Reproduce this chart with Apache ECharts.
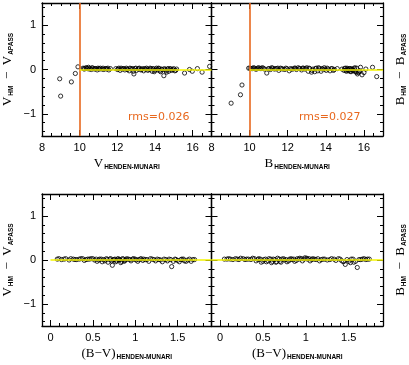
<!DOCTYPE html>
<html>
<head>
<meta charset="utf-8">
<script src="https://cdn.jsdelivr.net/npm/echarts@6/dist/echarts.min.js"></script>
<style>
  html, body { margin: 0; padding: 0; background: #fff; }
  #chart { width: 409px; height: 365px; }
</style>
</head>
<body>
<div id="chart"></div>
<script>
// V_HM - V_APASS against V (Henden-Munari)
const vPoints = [
  [8.94, -0.21], [8.99, -0.60], [9.56, -0.28], [9.77, -0.09], [9.91, 0.06],
  [10.18, 0.03], [10.22, 0.02], [10.25, 0.01], [10.33, 0.04], [10.37, 0.03], [10.41, 0.02],
  [10.47, 0.05], [10.51, 0.01], [10.55, 0.02], [10.62, 0.00], [10.66, 0.04], [10.70, 0.03],
  [10.78, 0.01], [10.82, 0.02], [10.86, 0.02], [10.93, -0.01], [10.97, 0.03], [11.02, 0.02],
  [11.06, 0.01], [11.10, 0.03], [11.19, 0.01], [11.24, 0.03], [11.28, 0.00], [11.36, 0.02],
  [11.41, 0.02], [11.45, 0.01], [11.50, 0.03], [11.55, -0.01], [11.63, 0.02],
  [11.92, 0.02], [12.01, 0.00], [12.05, 0.01], [12.08, 0.03], [12.15, -0.02], [12.20, 0.03],
  [12.24, 0.01], [12.31, 0.02], [12.36, 0.02], [12.40, -0.01], [12.48, 0.03], [12.52, 0.01],
  [12.55, 0.00], [12.63, -0.03], [12.67, 0.03], [12.70, 0.02], [12.78, 0.01], [12.82, 0.02],
  [12.85, -0.04], [12.88, -0.10], [12.94, 0.02], [12.98, 0.03], [13.02, -0.02], [13.10, 0.01],
  [13.14, 0.02], [13.17, 0.03], [13.25, -0.01], [13.29, 0.00], [13.33, 0.02], [13.40, -0.03],
  [13.44, 0.02], [13.48, 0.01], [13.55, 0.03], [13.59, 0.01], [13.62, -0.02], [13.70, 0.00],
  [13.74, 0.03], [13.78, 0.02], [13.85, -0.04], [13.89, 0.02], [13.92, 0.01], [13.96, -0.05],
  [14.00, -0.02], [14.04, 0.01], [14.08, 0.03], [14.15, -0.01], [14.19, 0.03], [14.22, 0.02],
  [14.26, -0.03], [14.30, -0.05], [14.34, 0.01], [14.38, 0.00], [14.47, -0.14], [14.50, 0.02],
  [14.54, 0.00], [14.58, -0.03], [14.62, -0.06], [14.66, 0.01], [14.70, 0.02], [14.73, -0.04],
  [14.80, 0.02], [14.84, 0.01], [14.88, -0.02], [14.95, 0.00], [14.99, 0.02], [15.05, -0.03],
  [15.10, -0.02], [15.15, 0.01], [15.57, -0.08], [15.83, 0.00], [15.98, -0.04],
  [16.25, 0.02], [16.50, -0.06], [16.90, 0.07]
]

// B_HM - B_APASS against B (Henden-Munari)
const bPoints = [
  [9.03, -0.76], [9.52, -0.57], [9.60, -0.35],
  [9.95, 0.03], [10.02, 0.03], [10.08, 0.02], [10.14, 0.02], [10.20, 0.04], [10.26, 0.03],
  [10.31, 0.01], [10.37, 0.01], [10.42, 0.03], [10.48, 0.04], [10.55, 0.02], [10.60, 0.02],
  [10.66, 0.04], [10.72, 0.03], [10.78, 0.01], [10.90, -0.08], [10.98, 0.02], [11.04, 0.02],
  [11.10, 0.00], [11.16, 0.04], [11.21, 0.03], [11.30, 0.01], [11.36, 0.02], [11.42, 0.02],
  [11.48, 0.03], [11.53, -0.02], [11.62, 0.03], [11.68, 0.02], [11.74, 0.01], [11.85, 0.00],
  [11.90, 0.03], [11.96, 0.02], [12.08, -0.03], [12.14, 0.02], [12.20, 0.01], [12.28, 0.01],
  [12.35, 0.03], [12.40, 0.03], [12.46, 0.00], [12.55, 0.04], [12.60, 0.02], [12.64, 0.02],
  [12.73, -0.01], [12.78, 0.03], [12.82, 0.03], [12.90, 0.01], [12.95, 0.02], [13.00, 0.04],
  [13.08, -0.04], [13.12, 0.03], [13.16, 0.02], [13.25, -0.06], [13.29, -0.02], [13.33, 0.01],
  [13.42, -0.05], [13.46, 0.02], [13.50, 0.03], [13.58, -0.03], [13.62, 0.04], [13.66, 0.02],
  [13.75, -0.04], [13.79, 0.02], [13.83, 0.01], [13.92, 0.04], [13.96, 0.01], [14.02, -0.02],
  [14.07, 0.03], [14.12, 0.01], [14.22, -0.03], [14.28, 0.02], [14.34, 0.02], [14.40, -0.02],
  [14.45, 0.00], [14.60, 0.02], [14.85, 0.01], [14.95, -0.02], [14.98, 0.02], [15.02, 0.03],
  [15.05, -0.02], [15.08, -0.04], [15.11, 0.03], [15.14, 0.01], [15.17, -0.01], [15.20, -0.03],
  [15.23, 0.02], [15.26, 0.02], [15.29, -0.04], [15.32, -0.05], [15.35, 0.02], [15.38, 0.00],
  [15.42, -0.02], [15.45, -0.03], [15.49, 0.02], [15.52, 0.04], [15.55, -0.04], [15.58, -0.06],
  [15.62, 0.03], [15.66, -0.10], [15.70, -0.07], [15.74, -0.05], [15.78, -0.03], [15.82, 0.05],
  [15.90, -0.12], [16.00, -0.07], [16.10, 0.01], [16.45, 0.05], [16.67, -0.16]
]

// V_HM - V_APASS against (B-V)
const bvVPoints = [
  [0.08, 0.02], [0.10, 0.03], [0.13, 0.01], [0.16, 0.02], [0.18, 0.03], [0.22, 0.00],
  [0.24, 0.03], [0.27, 0.02], [0.29, 0.01], [0.31, 0.01], [0.34, 0.02], [0.36, 0.03],
  [0.38, 0.03], [0.40, -0.01], [0.42, 0.01], [0.44, 0.02], [0.46, 0.02], [0.48, 0.03],
  [0.50, 0.03], [0.52, 0.00], [0.54, 0.02], [0.55, -0.03], [0.57, 0.00], [0.58, 0.02],
  [0.60, 0.02], [0.61, -0.04], [0.63, 0.01], [0.64, -0.02], [0.66, 0.03], [0.67, 0.01],
  [0.68, -0.05], [0.70, 0.02], [0.71, 0.03], [0.72, -0.02], [0.73, -0.12], [0.74, 0.00],
  [0.75, 0.01], [0.76, 0.02], [0.77, -0.04], [0.78, -0.02], [0.79, 0.02], [0.80, 0.03],
  [0.81, 0.00], [0.82, 0.01], [0.83, -0.06], [0.84, -0.03], [0.85, 0.03], [0.86, 0.02],
  [0.87, -0.03], [0.88, -0.01], [0.89, 0.01], [0.90, 0.03], [0.92, 0.02], [0.94, 0.01],
  [0.95, -0.02], [0.97, 0.02], [0.98, 0.03], [1.00, 0.02], [1.01, 0.00], [1.03, -0.03],
  [1.04, 0.01], [1.06, 0.02], [1.07, 0.03], [1.09, -0.01], [1.10, 0.02], [1.12, 0.01],
  [1.14, 0.01], [1.16, -0.03], [1.18, 0.03], [1.20, 0.02], [1.22, 0.01], [1.24, -0.02],
  [1.26, 0.02], [1.28, 0.01], [1.30, 0.00], [1.32, -0.04], [1.34, 0.02], [1.36, 0.01],
  [1.38, -0.02], [1.40, 0.02], [1.42, 0.01], [1.43, -0.15], [1.45, -0.03], [1.47, 0.02],
  [1.48, 0.01], [1.50, -0.01], [1.52, -0.04], [1.54, 0.01], [1.55, 0.02], [1.57, 0.02],
  [1.58, -0.02], [1.60, -0.03], [1.62, 0.00], [1.64, 0.02], [1.66, -0.03], [1.68, 0.01],
  [1.70, 0.01]
]

// B_HM - B_APASS against (B-V)
const bvBPoints = [
  [0.05, 0.02], [0.08, 0.02], [0.10, 0.03], [0.12, 0.02], [0.15, 0.01], [0.18, 0.03],
  [0.20, 0.02], [0.22, 0.01], [0.24, 0.04], [0.27, 0.03], [0.29, 0.01], [0.31, 0.02],
  [0.33, 0.02], [0.36, 0.01], [0.38, 0.04], [0.40, 0.03], [0.42, -0.02], [0.44, 0.01],
  [0.45, 0.03], [0.47, 0.02], [0.48, -0.05], [0.50, -0.03], [0.51, 0.01], [0.53, 0.02],
  [0.54, -0.04], [0.56, -0.02], [0.57, 0.03], [0.59, 0.02], [0.60, -0.06], [0.61, -0.03],
  [0.62, 0.02], [0.64, 0.01], [0.65, -0.05], [0.66, -0.04], [0.67, 0.04], [0.69, 0.02],
  [0.70, -0.03], [0.71, -0.05], [0.72, 0.02], [0.74, 0.03], [0.75, 0.00], [0.77, 0.01],
  [0.78, -0.04], [0.80, -0.02], [0.81, 0.02], [0.83, 0.03], [0.84, 0.01], [0.86, 0.02],
  [0.87, -0.03], [0.89, -0.01], [0.90, 0.03], [0.92, 0.02], [0.93, 0.04], [0.95, 0.03],
  [0.96, -0.02], [0.98, 0.02], [0.99, 0.05], [1.01, 0.04], [1.02, 0.02], [1.04, 0.03],
  [1.05, -0.02], [1.07, 0.01], [1.08, 0.03], [1.10, 0.02], [1.12, 0.01], [1.14, 0.03],
  [1.16, -0.02], [1.18, 0.01], [1.20, 0.02], [1.22, 0.02], [1.25, 0.00], [1.28, 0.01],
  [1.30, 0.03], [1.33, 0.02], [1.35, -0.01], [1.38, 0.03], [1.40, 0.02], [1.42, -0.02],
  [1.44, -0.04], [1.46, -0.10], [1.48, 0.01], [1.50, -0.03], [1.52, -0.06], [1.53, 0.02],
  [1.55, 0.02], [1.56, -0.05], [1.58, -0.03], [1.60, -0.17], [1.62, 0.01], [1.64, 0.01],
  [1.66, 0.02], [1.68, 0.03], [1.70, 0.01], [1.72, 0.02], [1.74, 0.02]
]

const magCut = 10
const rmsLabels = ['rms=0.026', 'rms=0.027']

// ticks
const magMajor = [8, 10, 12, 14, 16]
const magMinor = [8.5, 9, 9.5, 10.5, 11, 11.5, 12.5, 13, 13.5, 14.5, 15, 15.5, 16.5]
const bvMajor = [0, 0.5, 1, 1.5]
const bvMinor = [0.1, 0.2, 0.3, 0.4, 0.6, 0.7, 0.8, 0.9, 1.1, 1.2, 1.3, 1.4, 1.6, 1.7, 1.8]
const dMajor = [-1, 0, 1]
const dMinor = [-1.4, -1.2, -0.8, -0.6, -0.4, -0.2, 0.2, 0.4, 0.6, 0.8, 1.2, 1.4]

const ORANGE = '#e8681e'
const YELLOW = '#f5f500'

const rich = {
  b: { fontFamily: 'Liberation Serif', fontSize: 13, color: '#000' },
  s: { fontFamily: 'Liberation Sans', fontSize: 6.5, fontWeight: 'bold', color: '#000',
       verticalAlign: 'bottom', padding: [8, 0, 0, 1] }
}

const fmt = v => (v < 0 ? '\u2212' + (-v) : String(v))

// each side of a frame gets two axes: long ticks (+labels) and short ticks
const sideAxes = (gi, pos, min, max, major, minor, labels, extra) => [
  Object.assign({
    gridIndex: gi, type: 'value', position: pos, min, max,
    axisLine: { show: true, onZero: false, lineStyle: { color: '#000', width: 1.3 } },
    axisTick: { show: true, inside: true, length: 6, customValues: major, lineStyle: { color: '#000', width: 1 } },
    axisLabel: { show: labels, customValues: major, formatter: fmt, color: '#000',
                 fontFamily: 'Liberation Sans', fontSize: 11, margin: 6 },
    splitLine: { show: false }
  }, extra || {}),
  {
    gridIndex: gi, type: 'value', position: pos, min, max,
    axisLine: { show: false, onZero: false },
    axisTick: { show: true, inside: true, length: 3, customValues: minor, lineStyle: { color: '#000', width: 1 } },
    axisLabel: { show: false },
    splitLine: { show: false }
  }
]

const grids = [
  { left: 41, top: 3, width: 170.5, height: 133 },
  { left: 211.5, top: 3, width: 173, height: 133 },
  { left: 41, top: 194, width: 170.5, height: 132 },
  { left: 211.5, top: 194, width: 173, height: 132 }
]

const xName = (main) => ({
  name: '{b|' + main + '}{s|HENDEN-MUNARI}', nameLocation: 'middle', nameGap: 20,
  nameTextStyle: { rich }
})
const yName = (a, pos) => ({
  name: '{b|' + a + '}{s|HM}{b|  \u2212  ' + a + '}{s|APASS}', nameLocation: 'middle',
  nameGap: pos === 'left' ? 27 : 10, nameRotate: 90, nameTextStyle: { rich }
})

const xAxis = [
  ...sideAxes(0, 'bottom', 8, 17, magMajor, magMinor, true, xName('V')),
  ...sideAxes(0, 'top', 8, 17, magMajor, magMinor, false),
  ...sideAxes(1, 'bottom', 8, 17, magMajor, magMinor, true, xName('B')),
  ...sideAxes(1, 'top', 8, 17, magMajor, magMinor, false),
  ...sideAxes(2, 'bottom', -0.1, 1.9, bvMajor, bvMinor, true, xName('(B\u2212V)')),
  ...sideAxes(2, 'top', -0.1, 1.9, bvMajor, bvMinor, false),
  ...sideAxes(3, 'bottom', -0.1, 1.9, bvMajor, bvMinor, true, xName('(B\u2212V)')),
  ...sideAxes(3, 'top', -0.1, 1.9, bvMajor, bvMinor, false)
]

const yAxis = [
  ...sideAxes(0, 'left', -1.5, 1.5, dMajor, dMinor, true, yName('V', 'left')),
  ...sideAxes(0, 'right', -1.5, 1.5, dMajor, dMinor, false),
  ...sideAxes(1, 'left', -1.5, 1.5, dMajor, dMinor, false),
  ...sideAxes(1, 'right', -1.5, 1.5, dMajor, dMinor, false, yName('B', 'right')),
  ...sideAxes(2, 'left', -1.5, 1.5, dMajor, dMinor, true, yName('V', 'left')),
  ...sideAxes(2, 'right', -1.5, 1.5, dMajor, dMinor, false),
  ...sideAxes(3, 'left', -1.5, 1.5, dMajor, dMinor, false),
  ...sideAxes(3, 'right', -1.5, 1.5, dMajor, dMinor, false, yName('B', 'right'))
]

const zeroLine = (from, to) => ({
  silent: true, symbol: 'none', label: { show: false }, animation: false,
  lineStyle: { color: YELLOW, width: 1.6, type: 'solid' },
  data: [[{ coord: [from, 0] }, { coord: [to, 0] }]]
})

const scatter = (gi, data, mark) => ({
  type: 'scatter', xAxisIndex: gi * 4, yAxisIndex: gi * 4, data,
  symbol: 'circle', symbolSize: 4.2,
  itemStyle: { color: 'rgba(0,0,0,0)', borderColor: '#000', borderWidth: 1 },
  markLine: mark
})

const cutLine = (from) => ({
  silent: true, symbol: 'none', label: { show: false }, animation: false,
  data: [
    { xAxis: magCut, lineStyle: { color: ORANGE, width: 1.6, type: 'solid' } },
    [{ coord: [from, 0], lineStyle: { color: YELLOW, width: 1.6, type: 'solid' } }, { coord: [17, 0] }]
  ]
})

const option = {
  animation: false,
  backgroundColor: '#fff',
  grid: grids,
  xAxis,
  yAxis,
  graphic: [
    { type: 'text', left: 128, top: 112, style: { text: rmsLabels[0], fill: ORANGE, font: '11px "DejaVu Sans"' } },
    { type: 'text', left: 299, top: 112, style: { text: rmsLabels[1], fill: ORANGE, font: '11px "DejaVu Sans"' } }
  ],
  series: [
    scatter(0, vPoints, cutLine(magCut)),
    scatter(1, bPoints, cutLine(magCut)),
    scatter(2, bvVPoints, zeroLine(0, 1.9)),
    scatter(3, bvBPoints, zeroLine(-0.1, 1.9))
  ]
}

const chart = echarts.init(document.getElementById('chart'))
chart.setOption(option)
</script>
</body>
</html>
